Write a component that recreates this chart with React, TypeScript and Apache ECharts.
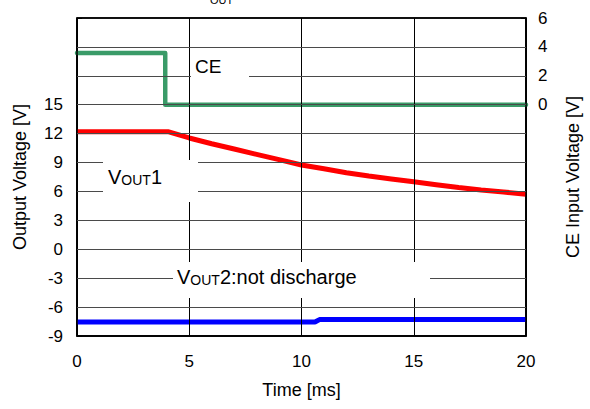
import React, { useEffect, useRef } from "react";
import * as echarts from "echarts";

// Time axis [ms]
const timeMin = 0;
const timeMax = 20;
const timeStep = 5;
const timeGridValues = [0, 5, 10, 15, 20];

// Left axis: Output Voltage [V]
const leftMin = -9;
const leftMax = 24;
const leftStep = 3;
const leftGridValues = [-9, -6, -3, 0, 3, 6, 9, 12, 15, 18, 21, 24];
const leftShownLabels = [-9, -6, -3, 0, 3, 6, 9, 12, 15];

// Right axis: CE Input Voltage [V]
const rightMin = -16;
const rightMax = 6;
const rightStep = 2;
const rightShownLabels = [0, 2, 4, 6];

// CE signal (right axis)
const ceTime = [0, 3.93, 3.93, 20];
const ceValue = [3.57, 3.57, 0, 0];

// VOUT1 (left axis)
const vout1Time = [0, 4.05, 5, 6, 7, 8, 9, 10, 11, 12, 13, 14, 15, 16, 17, 18, 19, 20];
const vout1Value = [12.2, 12.2, 11.55, 10.95, 10.4, 9.85, 9.3, 8.75, 8.35, 7.95, 7.6, 7.3, 7.0, 6.7, 6.4, 6.15, 5.95, 5.7];

// VOUT2 (left axis)
const vout2Time = [0, 10.6, 10.8, 20];
const vout2Value = [-7.55, -7.55, -7.3, -7.3];

const FONT = "Liberation Sans, Arial, sans-serif";

function pairs(xs: number[], ys: number[]) {
  return xs.map((x, i) => [x, ys[i]]);
}

export default function App() {
  const ref = useRef<HTMLDivElement>(null);

  useEffect(() => {
    if (!ref.current) return;
    const chart = echarts.init(ref.current, null, { renderer: "svg" });
    const richBase = {
      v: { fontSize: 20, fontFamily: FONT, color: "#000", verticalAlign: "bottom", lineHeight: 22 },
      s: { fontSize: 14, fontFamily: FONT, color: "#000", verticalAlign: "bottom", lineHeight: 20 },
    };
    const isEdgeX = (v: number) => v === timeMin || v === timeMax;
    const isEdgeY = (v: number) => v === leftMin || v === leftMax;
    const gridMarks = [
      ...timeGridValues.map((v) => ({
        xAxis: v,
        lineStyle: { color: "#000", width: isEdgeX(v) ? 1.5 : 1, type: "solid" },
      })),
      ...leftGridValues.map((v) => ({
        yAxis: v,
        lineStyle: { color: isEdgeY(v) ? "#000" : "#4a4a4a", width: isEdgeY(v) ? 1.5 : 1, type: "solid" },
      })),
    ];
    chart.setOption({
      animation: false,
      grid: { left: 77, right: 64, top: 18, bottom: 73, show: true, borderColor: "#000", borderWidth: 1.5 },
      xAxis: {
        type: "value",
        min: timeMin,
        max: timeMax,
        interval: timeStep,
        axisLine: { show: true, onZero: false, lineStyle: { color: "#000", width: 1.5 } },
        axisTick: { show: false },
        axisLabel: { fontSize: 17, fontFamily: FONT, color: "#000", margin: 17 },
        splitLine: { show: true, lineStyle: { color: "#000", width: 1 } },
        name: "Time [ms]",
        nameLocation: "middle",
        nameGap: 45,
        nameTextStyle: { fontSize: 18, fontFamily: FONT, color: "#000" },
      },
      yAxis: [
        {
          type: "value",
          min: leftMin,
          max: leftMax,
          interval: leftStep,
          axisLine: { show: true, onZero: false, lineStyle: { color: "#000", width: 1.5 } },
          axisTick: { show: true, inside: true, length: 5, lineStyle: { color: "#000" } },
          axisLabel: {
            fontSize: 17,
            fontFamily: FONT,
            color: "#000",
            margin: 14,
            formatter: (v: number) => (leftShownLabels.includes(v) ? String(v) : ""),
          },
          splitLine: { show: true, lineStyle: { color: "#4a4a4a", width: 1 } },
          name: "Output Voltage [V]",
          nameLocation: "middle",
          nameRotate: 90,
          nameGap: 48,
          nameTextStyle: { fontSize: 18, fontFamily: FONT, color: "#000" },
        },
        {
          type: "value",
          min: rightMin,
          max: rightMax,
          interval: rightStep,
          position: "right",
          axisLine: { show: true, onZero: false, lineStyle: { color: "#000", width: 1.5 } },
          axisTick: { show: true, inside: true, length: 5, lineStyle: { color: "#000" } },
          axisLabel: {
            fontSize: 17,
            fontFamily: FONT,
            color: "#000",
            margin: 12,
            formatter: (v: number) => (rightShownLabels.includes(v) ? String(v) : ""),
          },
          splitLine: { show: false },
          name: "CE Input Voltage [V]",
          nameLocation: "middle",
          nameRotate: 90,
          nameGap: 38,
          nameTextStyle: { fontSize: 18, fontFamily: FONT, color: "#000" },
        },
      ],
      series: [
        {
          name: "grid",
          type: "line",
          yAxisIndex: 0,
          data: pairs(vout2Time, vout2Value),
          showSymbol: false,
          silent: true,
          lineStyle: { width: 0, opacity: 0 },
          z: 1,
          markLine: {
            silent: true,
            symbol: "none",
            label: { show: false },
            data: gridMarks,
          },
        },
        {
          name: "CE",
          type: "line",
          yAxisIndex: 1,
          data: pairs(ceTime, ceValue),
          showSymbol: false,
          lineStyle: { color: "#3a9b68", width: 4.5, join: "round", cap: "round" },
          z: 3,
        },
        {
          name: "VOUT1",
          type: "line",
          yAxisIndex: 0,
          data: pairs(vout1Time, vout1Value),
          showSymbol: false,
          lineStyle: { color: "#ff0000", width: 5 },
          z: 3,
        },
        {
          name: "VOUT2",
          type: "line",
          yAxisIndex: 0,
          data: pairs(vout2Time, vout2Value),
          showSymbol: false,
          lineStyle: { color: "#0000ff", width: 5 },
          z: 3,
        },
      ],
      graphic: [
        {
          type: "text",
          x: 210,
          y: 5,
          z: 10,
          style: { text: "OUT", fontSize: 11, fontFamily: FONT, fill: "#000", textVerticalAlign: "bottom" },
        },
        {
          type: "group",
          z: 10,
          children: [
            { type: "rect", z: 10, shape: { x: 191, y: 55, width: 58, height: 30 }, style: { fill: "#fff" } },
            {
              type: "text",
              z: 11,
              x: 195,
              y: 66,
              style: { text: "CE", fontSize: 19, fontFamily: FONT, fill: "#000", textVerticalAlign: "middle" },
            },
          ],
        },
        {
          type: "group",
          z: 10,
          children: [
            { type: "rect", z: 10, shape: { x: 103, y: 160, width: 95, height: 42 }, style: { fill: "#fff" } },
            {
              type: "text",
              z: 11,
              x: 108,
              y: 187,
              style: {
                text: "{v|V}{s|OUT}{v|1}",
                rich: richBase,
                textVerticalAlign: "bottom",
              },
            },
          ],
        },
        {
          type: "group",
          z: 10,
          children: [
            { type: "rect", z: 10, shape: { x: 173, y: 262, width: 257, height: 36 }, style: { fill: "#fff" } },
            {
              type: "text",
              z: 11,
              x: 177,
              y: 287,
              style: {
                text: "{v|V}{s|OUT}{v|2:not discharge}",
                rich: richBase,
                textVerticalAlign: "bottom",
              },
            },
          ],
        },
      ],
    });
    return () => chart.dispose();
  }, []);

  return (
    <div
      ref={ref}
      style={{ position: "absolute", left: 0, top: 0, width: 590, height: 409 }}
    />
  );
}
